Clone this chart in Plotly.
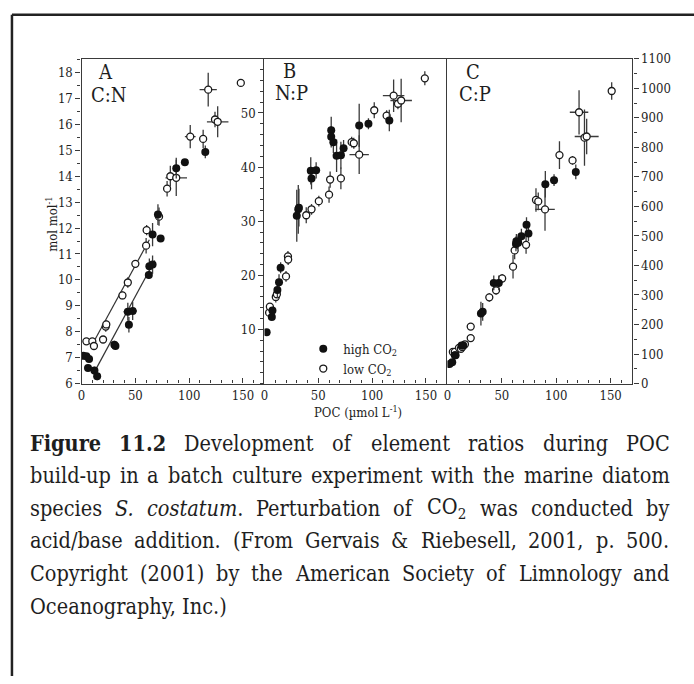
import json
import plotly.graph_objects as go

FIG_W, FIG_H = 694, 684

# ---------------- Panel A : C:N ----------------
cn_high_poc = [1.5, 4.5, 7, 6, 12, 14.5, 30.5, 31.5, 43, 47.5, 44, 62.5, 63, 66, 66, 73.5, 71, 88, 96, 115]
cn_high_val = [7.07, 7.05, 6.95, 6.6, 6.5, 6.28, 7.5, 7.45, 8.77, 8.8, 8.27, 10.19, 10.53, 10.59, 11.75, 11.6, 12.52, 14.31, 14.54, 14.94]
cn_high_yerr = [0.1, 0.1, 0.1, 0.1, 0.15, 0.15, 0.15, 0.15, 0.35, 0.35, 0.3, 0.15, 0.3, 0.35, 0.45, 0.1, 0.4, 0.4, 0.1, 0.25]
cn_high_xerr = [0, 0, 0, 0, 0, 0, 0, 0, 4, 4, 0, 0, 0, 0, 0, 0, 0, 0, 0, 0]

cn_low_poc = [4.5, 10, 11.5, 20, 22.5, 23, 38, 43, 50, 60, 60.5, 72, 79.5, 82.5, 88, 101, 113, 117.7, 124, 126.5, 148]
cn_low_val = [7.63, 7.63, 7.45, 7.7, 8.2, 8.28, 9.4, 9.9, 10.62, 11.32, 11.92, 12.44, 13.52, 14.0, 13.94, 15.53, 15.44, 17.34, 16.19, 16.1, 17.6]
cn_low_yerr = [0.05, 0.1, 0.15, 0.1, 0.2, 0.15, 0.15, 0.2, 0.1, 0.3, 0.2, 0.35, 0.3, 0.4, 0.7, 0.45, 0.35, 0.65, 0.3, 0.6, 0]
cn_low_xerr = [0, 0, 0, 0, 0, 0, 0, 0, 0, 0, 0, 0, 0, 0, 10, 5, 0, 8, 0, 10, 0]

# regression lines drawn through the linear phase
cn_fit_low_poc = [12.5, 63]
cn_fit_low_val = [7.7, 11.55]
cn_fit_high_poc = [12, 68]
cn_fit_high_val = [6.45, 10.75]

# ---------------- Panel B : N:P ----------------
np_high_poc = [2, 6.8, 7.4, 12, 13.5, 15, 30, 31.4, 32, 43, 43.7, 48, 62, 62, 64, 67, 71, 73.5, 88, 96.6, 116]
np_high_val = [9.5, 12.3, 13.5, 17.3, 18.7, 21.4, 31.0, 32.2, 32.5, 39.3, 37.9, 39.4, 46.8, 45.6, 44.6, 42.1, 42.2, 43.5, 47.7, 48.0, 48.6]
np_high_yerr = [0.3, 0.3, 0.5, 1.5, 1.5, 1.0, 4.8, 4.5, 3.5, 2.5, 2.0, 1.5, 2.5, 2.0, 2.0, 3.0, 2.5, 1.5, 4.0, 1.0, 2.0]
np_high_xerr = [0] * 21

np_low_poc = [4.3, 5, 10.5, 11.5, 20, 21.8, 22, 38.8, 43.7, 50.5, 60, 61, 71, 81, 83, 88, 102, 113.5, 120, 124, 127, 149]
np_low_val = [13.1, 14.2, 16.0, 16.5, 19.8, 23.5, 22.9, 31.1, 32.2, 33.7, 34.9, 37.7, 37.9, 44.6, 44.4, 42.3, 50.5, 49.5, 53.2, 51.7, 52.3, 56.4]
np_low_yerr = [0.5, 0.5, 1.0, 0.5, 1.0, 1.0, 1.0, 1.5, 1.0, 1.0, 1.5, 1.5, 2.0, 1.0, 1.0, 3.6, 1.5, 1.0, 3.0, 1.0, 4.0, 1.3]
np_low_xerr = [0, 0, 0, 0, 0, 0, 0, 0, 0, 0, 0, 0, 0, 0, 0, 9, 0, 0, 10, 0, 10, 0]

# ---------------- Panel C : C:P ----------------
cp_high_poc = [1.9, 4.4, 6.8, 7.5, 13, 14.6, 30.8, 32.4, 42.6, 47.2, 63, 63.4, 65, 68, 72.7, 74.5, 90, 98, 118]
cp_high_val = [66, 72, 96, 96, 129, 129, 237, 243, 341, 341, 473, 482, 477, 499, 538, 508, 675, 689, 717]
cp_high_yerr = [5, 5, 10, 10, 10, 10, 40, 30, 25, 25, 25, 25, 20, 25, 25, 25, 45, 20, 25]
cp_high_xerr = [0] * 19

cp_low_poc = [5, 6.8, 10.6, 12.4, 13.7, 16.1, 21.4, 21.4, 38.5, 44.7, 50.3, 60.3, 61.8, 72.3, 81.4, 83.5, 89.7, 103, 115, 121, 126, 128, 151]
cp_low_val = [107, 107, 121, 118, 124, 133, 154, 193, 292, 316, 356, 396, 451, 470, 622, 617, 590, 774, 756, 919, 833, 837, 991]
cp_low_yerr = [5, 10, 10, 10, 10, 10, 10, 10, 15, 15, 15, 40, 30, 30, 40, 30, 72, 47, 15, 75, 95, 60, 30]
cp_low_xerr = [0, 0, 0, 0, 0, 0, 0, 0, 0, 0, 0, 0, 0, 0, 0, 0, 9, 0, 0, 8.5, 0, 11, 0]

# ---------------- axis ticks ----------------
x_ticks = [0, 50, 100, 150]
x_minor = list(range(0, 171, 10))
cn_ticks = list(range(6, 19))
cn_minor = [6 + 0.5 * i for i in range(26)]
np_ticks = [10, 20, 30, 40, 50]
np_minor = list(range(0, 61, 2))
cp_ticks = list(range(0, 1101, 100))
cp_minor = list(range(0, 1101, 50))

panel_labels = [("A", "C:N"), ("B", "N:P"), ("C", "C:P")]
legend_names = ["high CO<sub>2</sub>", "low CO<sub>2</sub>"]

caption_lines = [
    "<b>Figure</b> <b>11.2</b> Development of element ratios during POC",
    "build-up in a batch culture experiment with the marine diatom",
    "species <i>S.</i> <i>costatum</i>. Perturbation of CO<sub>2</sub> was conducted by",
    "acid/base addition. (From Gervais &amp; Riebesell, 2001, p. 500.",
    "Copyright (2001) by the American Society of Limnology and",
    "Oceanography, Inc.)",
]

# ---------------- helpers ----------------
SERIF = "DejaVu Serif Condensed, Liberation Serif, Times New Roman, DejaVu Serif, serif"
INK = "#1e1e1e"
AX = "#3a3a3a"


def fx(px):
    return px / FIG_W


def fy(py):
    return 1 - py / FIG_H


fig = go.Figure()

panels = [
    ("x", "y", cn_high_poc, cn_high_val, cn_high_yerr, cn_high_xerr,
     cn_low_poc, cn_low_val, cn_low_yerr, cn_low_xerr),
    ("x2", "y2", np_high_poc, np_high_val, np_high_yerr, np_high_xerr,
     np_low_poc, np_low_val, np_low_yerr, np_low_xerr),
    ("x3", "y3", cp_high_poc, cp_high_val, cp_high_yerr, cp_high_xerr,
     cp_low_poc, cp_low_val, cp_low_yerr, cp_low_xerr),
]


def bars(arr):
    return dict(type="data", array=arr, visible=True, width=0, thickness=1.3, color=AX)


high_marker = dict(symbol="circle", size=8, color="#111111", line=dict(width=0))
low_marker = dict(symbol="circle", size=7, color="white", line=dict(color="#1a1a1a", width=1.3))

# regression lines in panel A
for px_, py_ in [(cn_fit_low_poc, cn_fit_low_val), (cn_fit_high_poc, cn_fit_high_val)]:
    fig.add_trace(go.Scatter(x=px_, y=py_, mode="lines", line=dict(color="#333333", width=1.2),
                             xaxis="x", yaxis="y", showlegend=False, hoverinfo="skip"))

for xa, ya, hp, hv, hye, hxe, lp, lv, lye, lxe in panels:
    fig.add_trace(go.Scatter(x=lp, y=lv, mode="markers", marker=low_marker,
                             error_y=bars(lye), error_x=bars(lxe),
                             xaxis=xa, yaxis=ya, showlegend=False))
    fig.add_trace(go.Scatter(x=hp, y=hv, mode="markers", marker=high_marker,
                             error_y=bars(hye), error_x=bars(hxe),
                             xaxis=xa, yaxis=ya, showlegend=False))

# legend entries
fig.add_trace(go.Scatter(x=[None], y=[None], mode="markers", marker=high_marker,
                         name=legend_names[0], xaxis="x2", yaxis="y2"))
fig.add_trace(go.Scatter(x=[None], y=[None], mode="markers", marker=low_marker,
                         name=legend_names[1], xaxis="x2", yaxis="y2"))

# ---------------- axes ----------------
plot_top, plot_bot = 53, 385
x_edges = [(78, 262), (262, 446), (446, 632)]
tickfont = dict(family=SERIF, size=13, color=INK)

common_x = dict(range=[0, 170], tickvals=x_ticks, ticks="inside", ticklen=5, tickwidth=1,
                tickcolor=AX, showline=True, linecolor=AX, linewidth=1.3, mirror=True,
                showgrid=False, zeroline=False, tickfont=tickfont,
                minor=dict(tickvals=x_minor, ticks="inside", ticklen=3, tickcolor=AX, showgrid=False))
ydom = [fy(plot_bot), fy(plot_top)]

layout_axes = {}
for i, (l, r) in enumerate(x_edges):
    key = "xaxis" if i == 0 else f"xaxis{i + 1}"
    layout_axes[key] = dict(common_x, domain=[fx(l), fx(r)], anchor="y" if i == 0 else f"y{i + 1}")

common_y = dict(ticks="outside", ticklen=5, tickwidth=1, tickcolor=AX, showline=True,
                linecolor=AX, linewidth=1.3, showgrid=False, zeroline=False,
                tickfont=tickfont, domain=ydom)
layout_axes["yaxis"] = dict(common_y, anchor="x", range=[6, 18.53], tickvals=cn_ticks,
                            minor=dict(tickvals=cn_minor, ticks="outside", ticklen=3, tickcolor=AX))
layout_axes["yaxis2"] = dict(common_y, anchor="x2", range=[0, 60], tickvals=np_ticks,
                             minor=dict(tickvals=np_minor, ticks="outside", ticklen=3, tickcolor=AX))
layout_axes["yaxis3"] = dict(common_y, anchor="x3", side="right", mirror=True, range=[0, 1100],
                             tickvals=cp_ticks,
                             minor=dict(tickvals=cp_minor, ticks="outside", ticklen=3, tickcolor=AX))


def label(px, py, text, size, **kw):
    return dict(x=fx(px), y=fy(py), xref="paper", yref="paper", text=text, showarrow=False,
                xanchor="center", yanchor="middle",
                font=dict(family=SERIF, size=size, color=INK), **kw)


annotations = []
label_pos = [((102.5, 66), (106, 90)), ((287.5, 65), (289, 88)), ((471.5, 66), (473.5, 89))]
for (letter, ratio), ((lx, ly), (rx, ry)) in zip(panel_labels, label_pos):
    annotations.append(label(lx, ly, letter, 20))
    annotations.append(label(rx, ry, ratio, 20))

annotations.append(label(48, 222, "mol mol<sup>-1</sup>", 13, textangle=-90))
annotations.append(label(356, 414, "POC (\u00b5mol L<sup>-1</sup>)", 13))

# ---------------- caption ----------------
# Every justified line is split into words; each word is its own annotation and the
# script below spreads them between the left and right margins once they are measured.
cap_size = 21.5
cap_left, cap_right = 25, 668
cap_y0, cap_step = 446, 33.3
cap_font = dict(family=SERIF, size=cap_size, color=INK)
justify_groups = []
for n, line in enumerate(caption_lines):
    y = fy(cap_y0 + n * cap_step)
    if n == len(caption_lines) - 1:
        annotations.append(dict(x=fx(cap_left), y=y, xref="paper", yref="paper", xanchor="left",
                                yanchor="middle", text=line, showarrow=False, borderpad=0,
                                font=cap_font))
        continue
    words = line.split(" ")
    idx = []
    for k, w in enumerate(words):
        # provisional spacing until the words are measured
        xp = cap_left + (cap_right - cap_left) * k / len(words)
        idx.append(len(annotations))
        annotations.append(dict(x=fx(xp), y=y, xref="paper", yref="paper", xanchor="left",
                                yanchor="middle", text=w, showarrow=False, borderpad=0,
                                font=cap_font))
    justify_groups.append(idx)

justify_js = """
var gd = document.getElementById('{plot_id}');
var groups = __GROUPS__;
var left = __LEFT__, right = __RIGHT__, figW = __FIGW__;
var upd = {};
groups.forEach(function (idx) {
  var ws = idx.map(function (i) {
    var t = gd.querySelector('g.annotation[data-index="' + i + '"] text.annotation-text');
    return t ? t.getBBox().width : 0;
  });
  var sum = ws.reduce(function (a, b) { return a + b; }, 0);
  var gap = (right - left - sum) / (idx.length - 1);
  var x = left;
  idx.forEach(function (i, k) {
    upd['annotations[' + i + '].x'] = x / figW;
    x += ws[k] + gap;
  });
});
return Plotly.relayout(gd, upd);
"""
justify_js = (justify_js.replace("__GROUPS__", json.dumps(justify_groups))
              .replace("__LEFT__", str(cap_left)).replace("__RIGHT__", str(cap_right))
              .replace("__FIGW__", str(FIG_W)))

# outer frame (left and top rules)
shapes = [
    dict(type="line", xref="paper", yref="paper", x0=fx(8), x1=fx(8), y0=0, y1=fy(8),
         line=dict(color="#222222", width=2.5)),
    dict(type="line", xref="paper", yref="paper", x0=fx(8), x1=1, y0=fy(8), y1=fy(8),
         line=dict(color="#222222", width=2.5)),
]

fig.update_layout(
    width=FIG_W, height=FIG_H, margin=dict(l=0, r=0, t=0, b=0),
    paper_bgcolor="white", plot_bgcolor="white",
    font=dict(family=SERIF, color=INK),
    showlegend=True,
    legend=dict(x=fx(301), y=fy(334), xanchor="left", yanchor="top",
                font=dict(family=SERIF, size=13, color=INK), bgcolor="rgba(0,0,0,0)",
                itemwidth=30, tracegroupgap=0),
    annotations=annotations, shapes=shapes,
    **layout_axes,
)

fig.write_html("out.html", post_script=justify_js)
